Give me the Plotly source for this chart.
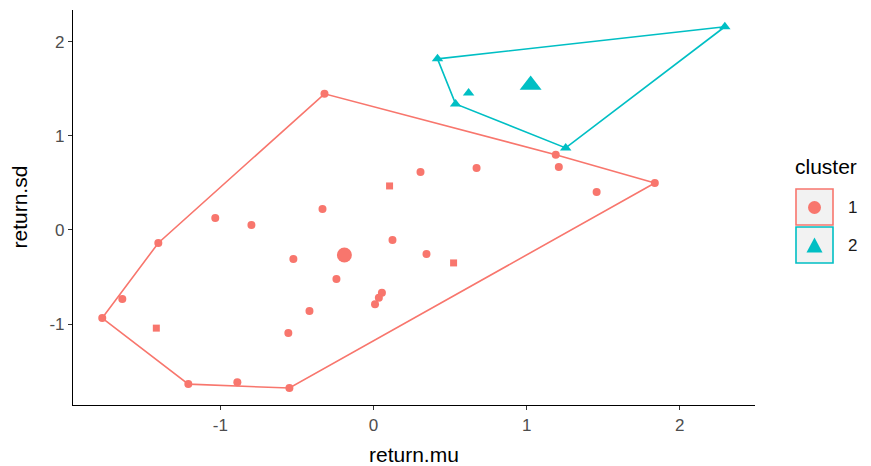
import plotly.graph_objects as go

# ---- data ----
c1_mu = [-0.32, 1.19, 1.837, -0.549, -1.209, -1.771, -1.405, -1.64, -0.889, -1.418,
         -1.033, -0.797, -0.333, -0.523, -0.418, -0.556, -0.242, 0.055, 0.035, 0.010,
         0.124, 0.346, 0.523, 0.105, 0.307, 0.673, 1.21, 1.457]
c1_sd = [1.447, 0.80, 0.50, -1.68, -1.638, -0.936, -0.138, -0.734, -1.617, -1.043,
         0.128, 0.053, 0.223, -0.309, -0.862, -1.096, -0.521, -0.668, -0.72, -0.79,
         -0.106, -0.255, -0.35, 0.468, 0.617, 0.66, 0.67, 0.404]
c1_sym = ["circle", "circle", "circle", "circle", "circle", "circle", "circle", "circle", "circle", "square",
          "circle", "circle", "circle", "circle", "circle", "circle", "circle", "circle", "circle", "circle",
          "circle", "circle", "square", "square", "circle", "circle", "circle", "circle"]
c2_mu = [0.418, 2.294, 1.255, 0.536, 0.621]
c2_sd = [1.819, 2.16, 0.872, 1.34, 1.457]
centroid_mu = [-0.19, 1.026]
centroid_sd = [-0.266, 1.54]
clusters = ["1", "2"]
colors = ["#F8766D", "#00BFC4"]
x_ticks = [-1, 0, 1, 2]
y_ticks = [-1, 0, 1, 2]
x_title = "return.mu"
y_title = "return.sd"
legend_title = "cluster"


def hull(xs, ys):
    pts = sorted(set(zip(xs, ys)))
    def cross(o, a, b):
        return (a[0] - o[0]) * (b[1] - o[1]) - (a[1] - o[1]) * (b[0] - o[0])
    lower, upper = [], []
    for p in pts:
        while len(lower) >= 2 and cross(lower[-2], lower[-1], p) <= 0:
            lower.pop()
        lower.append(p)
    for p in reversed(pts):
        while len(upper) >= 2 and cross(upper[-2], upper[-1], p) <= 0:
            upper.pop()
        upper.append(p)
    h = lower[:-1] + upper[:-1]
    h.append(h[0])
    return [p[0] for p in h], [p[1] for p in h]


fig = go.Figure()
for xs, ys, col in [(c1_mu, c1_sd, colors[0]), (c2_mu, c2_sd, colors[1])]:
    hx, hy = hull(xs, ys)
    fig.add_trace(go.Scatter(x=hx, y=hy, mode="lines", line=dict(color=col, width=1.6),
                             showlegend=False, hoverinfo="skip"))

fig.add_trace(go.Scatter(x=c1_mu, y=c1_sd, mode="markers",
                         marker=dict(color=colors[0], size=[7 if s == "square" else 8 for s in c1_sym],
                                     symbol=c1_sym, line=dict(width=0), opacity=1),
                         showlegend=False))
fig.add_trace(go.Scatter(x=c2_mu, y=c2_sd, mode="markers",
                         marker=dict(color=colors[1], size=10, symbol="triangle-up", line=dict(width=0), opacity=1),
                         showlegend=False))
fig.add_trace(go.Scatter(x=centroid_mu[:1], y=centroid_sd[:1], mode="markers",
                         marker=dict(color=colors[0], size=15, symbol="circle", line=dict(width=0), opacity=1),
                         showlegend=False))
fig.add_trace(go.Scatter(x=centroid_mu[1:], y=centroid_sd[1:], mode="markers",
                         marker=dict(color=colors[1], size=19, symbol="triangle-up", line=dict(width=0), opacity=1),
                         showlegend=False))

# page is offset by the 8px body margin of the html page
OFF = 8
PW, PH = 871, 466
# plot area in page pixels
L, R, T, B = 73, 755, 10, 405


def px(x):
    return (x - L) / (R - L)


def py(y):
    return (B - y) / (B - T)


TITLE_FONT = dict(size=21, color="#000000")
TICK_FONT = dict(size=17, color="#4D4D4D")

shapes = []
annotations = []
# axis titles
annotations.append(dict(x=px((L + R) / 2), y=py(454), xref="paper", yref="paper", text=x_title,
                        showarrow=False, xanchor="center", yanchor="middle", font=TITLE_FONT))
annotations.append(dict(x=px(19), y=py((T + B) / 2), xref="paper", yref="paper", text=y_title,
                        showarrow=False, xanchor="center", yanchor="middle", textangle=-90,
                        font=TITLE_FONT))
# manual legend
annotations.append(dict(x=px(793), y=py(166), xref="paper", yref="paper", text=legend_title,
                        showarrow=False, xanchor="left", yanchor="middle", font=TITLE_FONT))
key_tops = [189, 227]
for i, (lab, col) in enumerate(zip(clusters, colors)):
    t = key_tops[i]
    shapes.append(dict(type="rect", xref="paper", yref="paper",
                       x0=px(796), x1=px(833), y0=py(t + 36), y1=py(t),
                       line=dict(color=col, width=1.6), fillcolor="#F2F2F2"))
    cx, cy = 814.5, t + 18.5
    if i == 0:
        shapes.append(dict(type="circle", xref="paper", yref="paper",
                           x0=px(cx - 6.5), x1=px(cx + 6.5), y0=py(cy + 6.5), y1=py(cy - 6.5),
                           line=dict(width=0), fillcolor=col))
    else:
        path = "M {:.5f} {:.5f} L {:.5f} {:.5f} L {:.5f} {:.5f} Z".format(
            px(cx - 8), py(cy + 7), px(cx + 8), py(cy + 7), px(cx), py(cy - 8))
        shapes.append(dict(type="path", xref="paper", yref="paper", path=path,
                           line=dict(width=0), fillcolor=col))
    annotations.append(dict(x=px(846), y=py(cy), xref="paper", yref="paper", text=lab,
                            showarrow=False, xanchor="left", yanchor="middle",
                            font=dict(size=17, color="#1A1A1A")))

axis_common = dict(showline=True, linecolor="black", linewidth=1.2, ticks="outside",
                   ticklen=4, tickcolor="#333333", tickwidth=1, showgrid=False, zeroline=False,
                   tickfont=TICK_FONT, automargin=False)
fig.update_layout(
    width=PW - OFF, height=PH - OFF,
    margin=dict(l=L - OFF, r=PW - R, t=T - OFF, b=PH - B, autoexpand=False),
    paper_bgcolor="white", plot_bgcolor="white",
    font=dict(family="Liberation Sans, Arial, sans-serif"),
    xaxis=dict(range=[-1.962, 2.491], tickvals=x_ticks, ticktext=[str(v) for v in x_ticks],
               **axis_common),
    yaxis=dict(range=[-1.86, 2.338], tickvals=y_ticks, ticktext=[str(v) for v in y_ticks],
               **axis_common),
    shapes=shapes, annotations=annotations, showlegend=False,
)
fig.write_html("out.html")
